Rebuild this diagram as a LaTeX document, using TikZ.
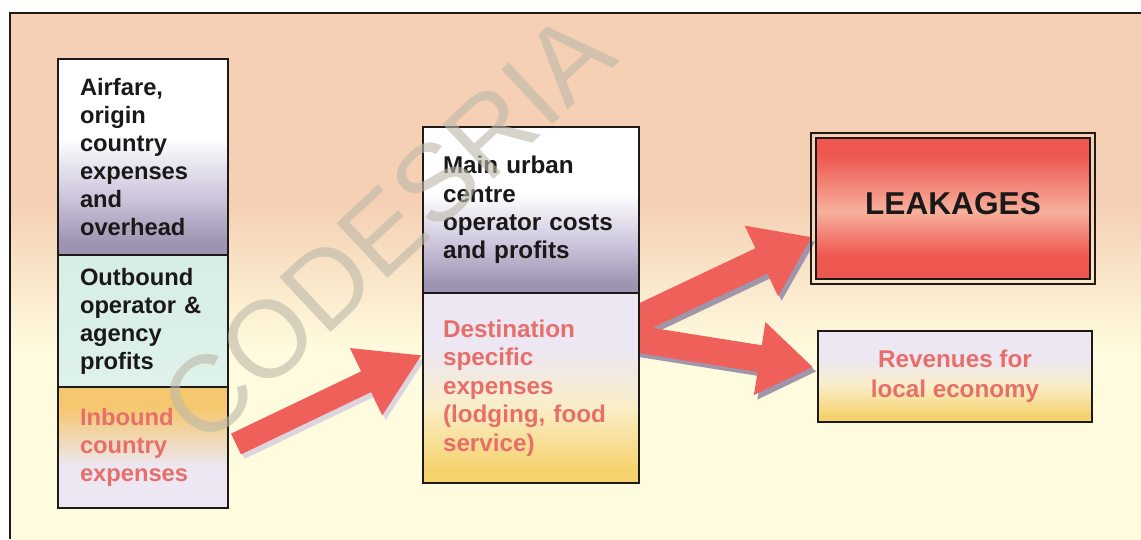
\documentclass[tikz,border=0pt]{standalone}
\usepackage{fontspec}
\setmainfont{Liberation Sans}
\usetikzlibrary{arrows.meta}
\definecolor{peach}{RGB}{245,208,180}
\definecolor{cream}{RGB}{255,251,222}
\definecolor{lavdark}{RGB}{158,148,178}
\definecolor{lavmid}{RGB}{205,198,220}
\definecolor{lavwhite}{RGB}{236,231,243}
\definecolor{mint}{RGB}{214,238,228}
\definecolor{mintlight}{RGB}{222,242,234}
\definecolor{orangey}{RGB}{245,200,112}
\definecolor{yelloworange}{RGB}{246,210,108}
\definecolor{creamy}{RGB}{250,238,200}
\definecolor{redd}{RGB}{238,86,80}
\definecolor{redlight}{RGB}{247,176,156}
\definecolor{redtext}{RGB}{232,110,106}
\definecolor{arrowred}{RGB}{240,96,90}
\definecolor{shadowgray}{RGB}{160,150,172}
\definecolor{shadowlight}{RGB}{222,212,222}
\definecolor{linec}{RGB}{30,26,26}
\definecolor{txtdark}{RGB}{26,24,24}
\definecolor{wmgray}{RGB}{188,184,168}
\pgfdeclareverticalshading{bgshade}{100bp}{color(0bp)=(cream); color(43bp)=(cream); color(57bp)=(peach); color(100bp)=(peach)}
\pgfdeclareverticalshading{whitelav}{100bp}{color(0bp)=(lavdark); color(28bp)=(lavdark); color(40bp)=(lavmid); color(55bp)=(white); color(100bp)=(white)}
\pgfdeclareverticalshading{orangelav}{100bp}{color(0bp)=(lavwhite); color(42bp)=(lavwhite); color(66bp)=(orangey); color(100bp)=(orangey)}
\pgfdeclareverticalshading{lavyellow}{100bp}{color(0bp)=(yelloworange); color(28bp)=(yelloworange); color(45bp)=(creamy); color(60bp)=(lavwhite); color(100bp)=(lavwhite)}
\pgfdeclareverticalshading{redshade}{100bp}{color(0bp)=(redd); color(33bp)=(redd); color(49bp)=(redlight); color(69bp)=(redd); color(100bp)=(redd)}
\tikzset{
  cellL/.style={draw=linec, line width=0.9pt, minimum width=3.4cm, text width=2.52cm,
    inner xsep=0.44cm, inner ysep=0pt, align=left,
    font=\fontsize{13.5}{15.9}\selectfont\bfseries, text=txtdark},
  cellM/.style={draw=linec, line width=0.9pt, minimum width=4.32cm, text width=3.52cm,
    inner xsep=0.4cm, inner ysep=0pt, align=left,
    font=\fontsize{13.8}{16.2}\selectfont\bfseries, text=txtdark},
  fatarrow/.style={draw=arrowred, line cap=butt},
  fatshadow/.style={draw=shadowgray, line cap=butt, transform canvas={shift={(0.07cm,-0.09cm)}}},
}
\begin{document}
\begin{tikzpicture}[x=0.02cm, y=-0.02cm]
\useasboundingbox (0,0) rectangle (1141,539);
\fill[white] (0,0) rectangle (1141,539);
\shade[shading=bgshade] (10,13) rectangle (1141,539);
\draw[linec, line width=1.1pt] (10,539) -- (10,13) -- (1141,13);

% arrow coordinates
\coordinate (a1s) at (236,444);
\coordinate (a1e) at (422,355);
\coordinate (a2s) at (630,323);
\coordinate (a2e) at (812,237);
\coordinate (a3s) at (630,338);
\coordinate (a3e) at (813,367);

% shadows
\draw[fatshadow, draw=shadowlight, line width=0.46cm, -{Triangle[length=1.24cm,width=1.4cm]}] (a1s) -- (a1e);
\draw[fatshadow, line width=0.56cm, -{Triangle[length=1.12cm,width=1.48cm]}] (a2s) -- (a2e);
\draw[fatshadow, line width=0.54cm, -{Triangle[length=1.08cm,width=1.4cm]}] (a3s) -- (a3e);
% arrows
\draw[fatarrow, line width=0.46cm, -{Triangle[length=1.24cm,width=1.4cm]}] (a1s) -- (a1e);
\draw[fatarrow, line width=0.56cm, -{Triangle[length=1.12cm,width=1.48cm]}] (a2s) -- (a2e);
\draw[fatarrow, line width=0.54cm, -{Triangle[length=1.08cm,width=1.4cm]}] (a3s) -- (a3e);

% left column
\node[cellL, shading=whitelav, minimum height=3.92cm] (A1) at (143,157)
  {Airfare,\\origin\\country\\expenses\\and\\overhead};
\node[cellL, top color=mint, bottom color=mintlight, minimum height=2.64cm] (A2) at (143,321)
  {Outbound\\operator \&\\agency\\profits};
\node[cellL, shading=orangelav, minimum height=2.42cm, text=redtext] (A3) at (143,447.5)
  {Inbound\\country\\expenses};

% middle column
\node[cellM, shading=whitelav, minimum height=3.32cm] (B1) at (531,210)
  {Main urban\\centre\\operator costs\\and profits};
\node[cellM, shading=lavyellow, minimum height=3.8cm, text=redtext] (B2) at (531,388)
  {Destination\\specific\\expenses\\(lodging, food\\service)};

% leakages
\node[draw=linec, line width=0.9pt, minimum width=5.48cm, minimum height=2.82cm,
  shading=redshade, text depth=0.2cm, text=txtdark,
  font=\fontsize{18}{20}\selectfont\bfseries] (C) at (953,208.5) {LEAKAGES};
\draw[linec, line width=0.9pt] ([shift={(-0.08cm,0.08cm)}]C.north west) rectangle ([shift={(0.08cm,-0.08cm)}]C.south east);

% revenues
\node[draw=linec, line width=0.9pt, minimum width=5.48cm, minimum height=1.82cm,
  shading=lavyellow, align=center, text=redtext,
  font=\fontsize{13.8}{17}\selectfont\bfseries] (D) at (955,376.5) {Revenues for\\local economy};

% watermark
\node[rotate=43, text=wmgray, opacity=0.6, inner sep=0pt,
  font=\fontsize{62}{62}\selectfont] (wm) at (387,228) {CODESRIA};
\end{tikzpicture}
\end{document}
